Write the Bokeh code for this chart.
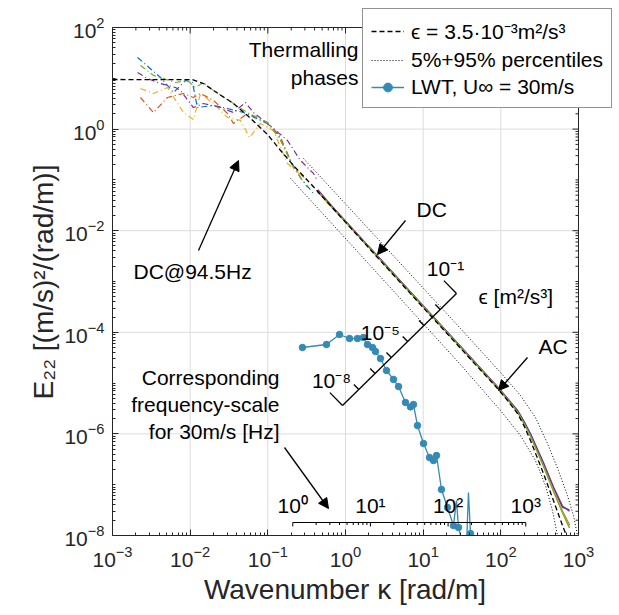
import numpy as np
from bokeh.plotting import figure
from bokeh.models import (Range1d, FixedTicker, Label, Arrow, NormalHead,
                          Legend, LegendItem, LogTickFormatter)
from bokeh.embed import file_html
from bokeh.resources import INLINE

# ---------------- data ----------------
# low-wavenumber (DC) spectra of the thermalling phases
dc_blue_k = [2.10e-3, 4.15e-3, 6.10e-3, 8.71e-3, 1.07e-2, 1.24e-2, 2.00e-2, 3.03e-2, 4.86e-2, 9.90e-2, 0.133, 0.196, 0.263, 0.387]
dc_blue_E = [25.7, 10.4, 5.25, 9.05, 8.27, 2.66, 2.92, 2.54, 2.12, 1.29, 0.819, 0.241, 0.111, 0.054]
dc_orange_k = [2.29e-3, 3.37e-3, 5.10e-3, 8.20e-3, 1.10e-2, 1.36e-2, 2.00e-2, 3.03e-2, 3.61e-2, 5.47e-2, 9.90e-2, 0.146, 0.214, 0.324]
dc_orange_E = [4.19, 2.12, 4.19, 5.02, 4.19, 5.02, 3.66, 2.03, 1.29, 2.03, 1.35, 0.684, 0.175, 0.0973]
dc_gold_k = [2.29e-3, 3.37e-3, 5.10e-3, 8.20e-3, 1.10e-2, 1.36e-2, 2.00e-2, 3.03e-2, 4.45e-2, 5.81e-2, 8.04e-2, 0.118, 0.179, 0.324]
dc_gold_E = [6.30, 5.02, 6.59, 2.12, 1.55, 5.02, 3.19, 1.69, 1.48, 0.684, 1.29, 0.938, 0.210, 0.0973]
dc_purple_k = [2.10e-3, 2.82e-3, 4.15e-3, 6.47e-3, 7.51e-3, 1.10e-2, 1.48e-2, 2.46e-2, 3.61e-2, 5.15e-2, 6.53e-2, 0.118, 0.179, 0.263, 0.387, 0.435]
dc_purple_E = [13.0, 9.91, 7.90, 6.59, 5.75, 2.66, 3.19, 2.66, 2.12, 3.34, 2.12, 1.03, 0.597, 0.241, 0.134, 0.0973]
dc_green_k = [2.29e-3, 3.37e-3, 6.47e-3, 9.24e-3, 1.17e-2, 1.48e-2, 2.00e-2, 3.61e-2, 5.47e-2, 9.90e-2, 0.146, 0.214, 0.324]
dc_green_E = [17.9, 11.4, 8.27, 9.05, 6.59, 8.27, 5.75, 3.19, 2.12, 1.35, 0.597, 0.175, 0.0708]

# high-wavenumber (AC) spectra
ac_k = [0.44, 0.6, 0.86, 1.3, 2.0, 2.6, 4.0, 6.9, 12.4, 20, 30, 55, 91, 125, 164, 200, 241, 354, 476, 622, 765]
ac_blue_E = [0.0575, 0.0360, 0.0198, 9.9e-3, 4.80e-3, 3.10e-3, 1.52e-3, 6.1e-4, 2.30e-4, 1.04e-4, 5.3e-5, 1.92e-5, 8.3e-6, 4.7e-6, 2.85e-6, 1.68e-6, 9.8e-7, 2.6e-7, 8.6e-8, 3.6e-8, 3.2e-8]
ac_orange_E = [0.0610, 0.0350, 0.0200, 9.8e-3, 4.78e-3, 3.12e-3, 1.50e-3, 6.05e-4, 2.28e-4, 1.03e-4, 5.25e-5, 1.90e-5, 8.25e-6, 4.65e-6, 2.8e-6, 1.64e-6, 9.5e-7, 2.45e-7, 8.0e-8, 3.0e-8, 1.6e-8]
ac_gold_E = [0.0590, 0.0340, 0.0192, 9.7e-3, 4.72e-3, 3.08e-3, 1.48e-3, 6.0e-4, 2.26e-4, 1.02e-4, 5.2e-5, 1.88e-5, 8.15e-6, 4.6e-6, 2.75e-6, 1.60e-6, 9.2e-7, 2.4e-7, 7.8e-8, 2.9e-8, 1.5e-8]
ac_purple_E = [0.0640, 0.0370, 0.0196, 9.9e-3, 4.85e-3, 3.15e-3, 1.53e-3, 6.15e-4, 2.32e-4, 1.05e-4, 5.35e-5, 1.95e-5, 8.4e-6, 4.75e-6, 2.9e-6, 1.72e-6, 1.0e-6, 2.7e-7, 9.0e-8, 3.8e-8, 3.0e-8]
ac_green_E = [0.0600, 0.0345, 0.0190, 9.6e-3, 4.70e-3, 3.05e-3, 1.47e-3, 5.95e-4, 2.25e-4, 1.01e-4, 5.15e-5, 1.87e-5, 8.1e-6, 4.55e-6, 2.7e-6, 1.58e-6, 9.0e-7, 2.3e-7, 7.4e-8, 2.8e-8, 1.4e-8]

# model spectrum, eps = 3.5e-3 m^2/s^3
model_k = [1e-3, 1.07e-2, 1.48e-2, 2.00e-2, 3.61e-2, 5.47e-2, 9.90e-2, 0.146, 0.214, 0.354, 2.58, 12.4, 90.6, 125, 164, 200, 241, 354, 476, 622, 700]
model_E = [9.47, 9.40, 7.90, 5.75, 3.19, 1.85, 0.783, 0.379, 0.192, 0.0849, 2.97e-3, 2.14e-4, 7.83e-6, 4.35e-6, 2.52e-6, 1.42e-6, 7.41e-7, 1.66e-7, 4.89e-8, 1.57e-8, 1.0e-8]

# 5% and 95% percentiles
p95_k = [0.288, 2.58, 30.2, 99.0, 179, 279, 399, 552, 721, 861, 970]
p95_E = [0.264, 7.02e-3, 1.19e-4, 1.62e-5, 5.70e-6, 2.10e-6, 6.47e-7, 1.90e-7, 6.12e-8, 2.48e-8, 1.0e-8]
p05_k = [0.196, 2.58, 30.2, 99.0, 179, 279, 376, 462, 536]
p05_E = [0.107, 1.44e-3, 2.32e-5, 2.89e-6, 9.30e-7, 2.99e-7, 9.64e-8, 3.10e-8, 1.0e-8]

# LWT spectrum, U_inf = 30 m/s
lwt_k = [0.279, 0.569, 0.837, 1.126, 1.427, 1.704, 1.919, 2.226, 2.433, 2.821, 3.371, 4.148, 4.813, 5.922, 6.866, 7.505,
         8.45, 10.10, 12.06, 13.58, 14.85, 17.21, 20.56, 24.57, 26.85, 28.5, 32.1, 36.1, 38.3, 40.7, 45.5]
lwt_E = [5.02e-5, 5.75e-5, 9.05e-5, 7.55e-5, 7.55e-5, 7.90e-5, 5.75e-5, 5.02e-5, 4.19e-5, 3.05e-5, 1.77e-5, 1.18e-5, 8.57e-6,
         4.15e-6, 3.4e-6, 3.79e-6, 1.46e-6, 6.47e-7, 3.43e-7, 2.99e-7, 3.76e-7, 8.05e-8, 3.56e-8, 1.57e-8, 4.89e-8, 1.44e-8,
         7.0e-9, 6.0e-9, 7.02e-8, 1.09e-8, 5.0e-9]
lwt_spike = [False] * 24 + [True] + [False] * 3 + [True] + [False] * 2

U_inf = 30.0
freq_major = [1, 10, 100, 1000]
freq_labels = ["10⁰", "10¹", "10²", "10³"]
eps_ticks = [1e-8, 1e-7, 1e-6, 1e-5, 1e-4, 1e-3, 1e-2, 1e-1]
eps_labels = {1e-8: "10⁻⁸", 1e-5: "10⁻⁵", 1e-1: "10⁻¹"}

x_major = [1e-3, 1e-2, 1e-1, 1e0, 1e1, 1e2, 1e3]
y_major = [1e-8, 1e-6, 1e-4, 1e-2, 1e0, 1e2]
X_LO, X_HI, Y_LO, Y_HI = 1e-3, 1e3, 1e-8, 1e2

COLORS = ["#0072BD", "#D95319", "#EDB120", "#7E2F8E", "#77AC30"]
LWT_COLOR = "#348AB4"
AX = "#262626"
GRID = "#dcdcdc"
FONT = "Liberation Sans"

# ---------------- geometry ----------------
W, H = 619, 615
FL, FT, FB = 112, 27, 80            # axes box: x 112..578, y 27..535
BOX_W, BOX_H = 466, 508
DX = BOX_W / 6.0                     # px per decade in x
DY = BOX_H / 10.0                    # px per decade in y
# the drawing frame reaches the right and top edges of the page so that the
# legend may stick out of the axes box as in the original
FW, FH = W - FL, H - FB
x_hi = 10 ** (np.log10(X_LO) + FW / DX)
y_hi = 10 ** (np.log10(Y_LO) + FH / DY)

p = figure(width=W, height=H, frame_width=FW, frame_height=FH,
           x_axis_type="log", y_axis_type="log",
           x_range=Range1d(X_LO, x_hi), y_range=Range1d(Y_LO, y_hi),
           output_backend="svg", toolbar_location=None,
           min_border_left=FL, min_border_right=0, min_border_top=0, min_border_bottom=FB)
p.background_fill_color = "white"
p.border_fill_color = "white"
p.outline_line_color = None
p.xgrid.visible = False
p.ygrid.visible = False

x_minor = [m * 10.0 ** n for n in range(-3, 3) for m in range(2, 10)]
y_minor = [m * 10.0 ** n for n in range(-8, 2) for m in range(1, 10) if not (m == 1 and n % 2 == 0)]

def style_axis(ax):
    ax.axis_line_color = AX
    ax.major_tick_line_color = AX
    ax.minor_tick_line_color = AX
    ax.major_tick_in = 6
    ax.major_tick_out = 0
    ax.minor_tick_in = 3
    ax.minor_tick_out = 0
    ax.major_label_text_font = FONT
    ax.major_label_text_color = AX
    ax.major_label_text_font_size = "21px"
    ax.axis_label_text_font = FONT
    ax.axis_label_text_font_style = "normal"
    ax.axis_label_text_color = AX
    ax.axis_label_text_font_size = "28px"

p.xaxis.ticker = FixedTicker(ticks=x_major, minor_ticks=x_minor)
p.yaxis.ticker = FixedTicker(ticks=y_major, minor_ticks=y_minor)
p.xaxis.formatter = LogTickFormatter()
p.yaxis.formatter = LogTickFormatter()
style_axis(p.xaxis[0])
style_axis(p.yaxis[0])
p.xaxis.bounds = (X_LO, X_HI)
p.yaxis.bounds = (Y_LO, Y_HI)
p.xaxis.major_label_standoff = 10
p.yaxis.major_label_standoff = 8
# the axis labels are centred on the (wider) drawing frame: trailing en-spaces
# bring them back to the centre of the axes box
p.xaxis.axis_label = "Wavenumber κ [rad/m]\u2002\u2002\u2002"
p.yaxis.axis_label = "E₂₂ [(m/s)²/(rad/m)]\u2002\u2002"
p.xaxis.axis_label_standoff = 4
p.yaxis.axis_label_standoff = 2

# ---------------- helpers (pixel offsets -> data coordinates) ----------------
def kx(px):
    return 10 ** ((px - FL) / DX + np.log10(X_LO))

def ey(py):
    return 10 ** (np.log10(Y_HI) - (py - FT) / DY)

# grid lines inside the axes box
p.segment(x0=x_major, y0=[Y_LO] * len(x_major), x1=x_major, y1=[Y_HI] * len(x_major),
          line_color=GRID, line_width=1)
p.segment(x0=[X_LO] * len(y_major), y0=y_major, x1=[X_HI] * len(y_major), y1=y_major,
          line_color=GRID, line_width=1)

# ---------------- spectra ----------------
dc_sets = [(dc_blue_k, dc_blue_E), (dc_orange_k, dc_orange_E), (dc_gold_k, dc_gold_E),
           (dc_purple_k, dc_purple_E), (dc_green_k, dc_green_E)]
for (kk, ee), c in zip(dc_sets, COLORS):
    p.line(kk, ee, line_color=c, line_width=1.2, line_dash="6 3 1 3")

ac_sets = [ac_blue_E, ac_orange_E, ac_gold_E, ac_purple_E, ac_green_E]
for ee, c in zip(ac_sets, COLORS):
    p.line(ac_k, ee, line_color=c, line_width=1.4)

r_model = p.line(model_k, model_E, line_color="black", line_width=1.3, line_dash="5 3")
r_p95 = p.line(p95_k, p95_E, line_color="black", line_width=1, line_dash="1 2")
p.line(p05_k, p05_E, line_color="black", line_width=1, line_dash="1 2")

r_lwt = p.line(lwt_k, lwt_E, line_color=LWT_COLOR, line_width=1.3)
mk = [k for k, s in zip(lwt_k, lwt_spike) if not s]
me = [e for e, s in zip(lwt_E, lwt_spike) if not s]
r_lwt_pts = p.scatter(mk, me, size=6.5, fill_color=LWT_COLOR, line_color=LWT_COLOR, marker="circle")

# keep data inside the axes box
p.quad(left=[X_HI], right=[x_hi], bottom=[Y_LO], top=[y_hi], fill_color="white", line_color=None)
p.quad(left=[X_LO], right=[x_hi], bottom=[Y_HI], top=[y_hi], fill_color="white", line_color=None)

# top and right edges of the box with inward ticks
p.segment(x0=[X_LO, X_HI], y0=[Y_HI, Y_LO], x1=[X_HI, X_HI], y1=[Y_HI, Y_HI], line_color=AX, line_width=1)
p.segment(x0=x_major, y0=[Y_HI] * len(x_major), x1=x_major, y1=[ey(FT + 6)] * len(x_major),
          line_color=AX, line_width=1)
p.segment(x0=x_minor, y0=[Y_HI] * len(x_minor), x1=x_minor, y1=[ey(FT + 3)] * len(x_minor),
          line_color=AX, line_width=1)
RX = FL + BOX_W
p.segment(x0=[X_HI] * len(y_major), y0=y_major, x1=[kx(RX - 6)] * len(y_major), y1=y_major,
          line_color=AX, line_width=1)
p.segment(x0=[X_HI] * len(y_minor), y0=y_minor, x1=[kx(RX - 3)] * len(y_minor), y1=y_minor,
          line_color=AX, line_width=1)

# ---------------- annotations ----------------
def lab(text, px, py, align="left", size="21px"):
    p.add_layout(Label(x=kx(px), y=ey(py), text=text, text_align=align, text_baseline="bottom",
                       text_font=FONT, text_font_size=size, text_color="black"))

def arrow(x0, y0, x1, y1):
    p.add_layout(Arrow(x_start=kx(x0), y_start=ey(y0), x_end=kx(x1), y_end=ey(y1),
                       line_color="black", line_width=1.3,
                       end=NormalHead(size=10, fill_color="black", line_color="black", line_width=1)))

# texts (y given as the bottom of the text box)
lab("Thermalling", 358, 60, align="right")
lab("phases", 358, 88, align="right")
lab("DC@94.5Hz", 133, 282)
arrow(198, 250, 238, 160)
lab("DC", 416, 220)
arrow(405, 220, 377, 254)
lab("AC", 538, 357)
arrow(527, 357, 498, 390)
lab("Corresponding", 279, 388, align="right")
lab("frequency-scale", 279, 415, align="right")
lab("for 30m/s [Hz]", 279, 442, align="right")
arrow(284, 447, 328, 508)

# frequency scale for U_inf
kap = lambda f: 2 * np.pi * f / U_inf
F_Y = 522
E_lvl = ey(F_Y)
p.line([kap(freq_major[0]), kap(freq_major[-1])], [E_lvl, E_lvl], line_color="black", line_width=1)
f_minor = [m * f for f in freq_major[:-1] for m in range(2, 10)]
p.segment(x0=[kap(f) for f in freq_major], y0=[E_lvl] * 4, x1=[kap(f) for f in freq_major],
          y1=[ey(F_Y + 4)] * 4, line_color="black", line_width=1)
p.segment(x0=[kap(f) for f in f_minor], y0=[E_lvl] * len(f_minor), x1=[kap(f) for f in f_minor],
          y1=[ey(F_Y + 2.5)] * len(f_minor), line_color="black", line_width=1)
for f, t in zip(freq_major, freq_labels):
    p.add_layout(Label(x=kap(f), y=ey(516), text=t, text_align="center", text_baseline="bottom",
                       text_font=FONT, text_font_size="21px", text_color="black"))

# rotated dissipation-rate scale
A = np.array([342.0, 405.0])
B = np.array([456.0, 293.0])
d = B - A
u = d / np.hypot(*d)
nrm = np.array([u[1], -u[0]])
nd = len(eps_ticks) - 1
sx0, sy0, sx1, sy1 = [kx(A[0])], [ey(A[1])], [kx(B[0])], [ey(B[1])]
for i, e in enumerate(eps_ticks):
    P = A + d * i / nd
    L = 18 if i in (0, nd) else 7
    Q = P + nrm * L
    sx0.append(kx(P[0])); sy0.append(ey(P[1])); sx1.append(kx(Q[0])); sy1.append(ey(Q[1]))
    if e in eps_labels:
        p.add_layout(Label(x=kx(P[0] - 11), y=ey(P[1] - 14), text=eps_labels[e], text_align="center",
                           text_baseline="bottom", text_font=FONT, text_font_size="21px", text_color="black"))
p.segment(x0=sx0, y0=sy0, x1=sx1, y1=sy1, line_color="black", line_width=1.3)
lab("ϵ [m²/s³]", 478, 307)

# ---------------- legend ----------------
legend = Legend(items=[LegendItem(label="ϵ = 3.5·10⁻³m²/s³", renderers=[r_model]),
                       LegendItem(label="5%+95% percentiles", renderers=[r_p95]),
                       LegendItem(label="LWT, U∞ = 30m/s", renderers=[r_lwt, r_lwt_pts])],
                location=(250, 427))
legend.border_line_color = AX
legend.border_line_width = 1
legend.background_fill_color = "white"
legend.background_fill_alpha = 1
legend.label_text_font = FONT
legend.label_text_font_size = "21px"
legend.label_text_color = "black"
legend.padding = 8
legend.spacing = 3
legend.margin = 0
legend.glyph_width = 33
legend.glyph_height = 22
legend.label_height = 22
legend.label_standoff = 7
p.add_layout(legend)

open("out.html", "w").write(file_html(p, INLINE))
